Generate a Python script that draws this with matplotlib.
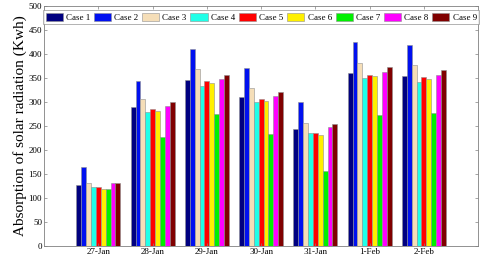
import numpy as np
import matplotlib
matplotlib.use("Agg")
import matplotlib.pyplot as plt

plt.rcParams["font.family"] = ["Liberation Serif", "DejaVu Serif"]

days = ["27-Jan", "28-Jan", "29-Jan", "30-Jan", "31-Jan", "1-Feb", "2-Feb"]
cases = ["Case 1", "Case 2", "Case 3", "Case 4", "Case 5",
         "Case 6", "Case 7", "Case 8", "Case 9"]
colors = ["#000080", "#0010F0", "#F5DEB8", "#20FFE8", "#FF0000",
          "#FFF000", "#00F000", "#FF00FF", "#800000"]

case1 = [127, 290, 346, 310, 243, 360, 354]
case2 = [165, 344, 410, 371, 300, 424, 419]
case3 = [130, 306, 368, 330, 256, 382, 376]
case4 = [123, 280, 333, 300, 236, 350, 341]
case5 = [122, 286, 343, 307, 236, 357, 352]
case6 = [118, 282, 339, 302, 232, 353, 347]
case7 = [118, 226, 275, 234, 156, 273, 277]
case8 = [130, 292, 348, 313, 247, 362, 356]
case9 = [131, 300, 357, 321, 253, 373, 366]
series = [case1, case2, case3, case4, case5, case6, case7, case8, case9]

fig = plt.figure(figsize=(4.8, 2.58), dpi=100)
ax = fig.add_axes([0.092, 0.047, 0.904, 0.93])

x = np.arange(1, len(days) + 1)
w = 0.09
for i, (vals, c, name) in enumerate(zip(series, colors, cases)):
    ax.bar(x + (i - 4) * w, vals, width=w, color=c, edgecolor="#909090",
           linewidth=0.4, label=name)

ax.set_xlim(0, 8)
ax.set_ylim(0, 500)
ax.set_xticks(x)
ax.set_xticklabels(days)
ax.set_yticks(range(0, 501, 50))
ax.tick_params(labelsize=6.5, length=2, width=0.5, color="#808080",
               direction="in", top=True, right=True, pad=1.5)
for s in ax.spines.values():
    s.set_color("#808080")
    s.set_linewidth(0.6)
ax.set_ylabel("Absorption of solar radiation (Kwh)", fontsize=11, labelpad=1)

leg = ax.legend(loc="upper center", ncol=9, fontsize=6.5, frameon=True,
                fancybox=False, handlelength=1.9, handleheight=1.0,
                handletextpad=0.35, columnspacing=0.42,
                borderpad=0.3, borderaxespad=0.3,
                bbox_to_anchor=(0.5, 0.995))
leg.get_frame().set_edgecolor("#909090")
leg.get_frame().set_linewidth(0.6)

fig.savefig("out.png", dpi=100)
